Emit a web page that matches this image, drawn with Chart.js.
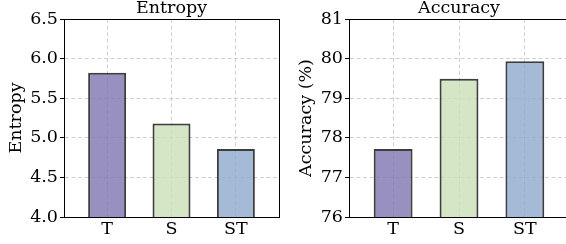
<!DOCTYPE html>
<html lang="en">
<head>
<meta charset="UTF-8">
<title>Entropy and Accuracy</title>
<script src="https://cdn.jsdelivr.net/npm/chart.js"></script>
<style>
  body { margin: 0; width: 566px; height: 244px; overflow: hidden; background: #fff; }
  canvas { position: absolute; top: 0; }
  #left { left: 0; }
  #right { left: 290px; }
</style>
</head>
<body>
<canvas id="left" width="290" height="244"></canvas>
<canvas id="right" width="290" height="244"></canvas>
<script>
const categories = ['T', 'S', 'ST'];
const entropyValues = [5.82, 5.18, 4.86];
const accuracyValues = [77.72, 79.49, 79.93];
const entropyTicks = [4.0, 4.5, 5.0, 5.5, 6.0, 6.5];
const accuracyTicks = [76, 77, 78, 79, 80, 81];

const fills = ['rgba(126,116,176,0.8)', 'rgba(201,224,184,0.8)', 'rgba(143,169,204,0.8)'];
const serif = 'DejaVu Serif';
const gridColor = '#d0d0d0';

// box around the axes, like matplotlib
const frame = {
  id: 'frame',
  afterDatasetsDraw(chart) {
    const a = chart.chartArea, ctx = chart.ctx;
    ctx.save();
    ctx.strokeStyle = '#000';
    ctx.lineWidth = 1;
    ctx.strokeRect(Math.round(a.left) + 0.5, Math.round(a.top) + 0.5,
      Math.round(a.right - a.left), Math.round(a.bottom - a.top));
    ctx.restore();
  }
};

function makeChart(id, title, yLabel, values, yTicks, decimals, yWidth) {
  const font = { family: serif, size: 17.5 };
  return new Chart(document.getElementById(id), {
    type: 'bar',
    data: {
      datasets: [{
        data: values.map((v, i) => ({ x: i, y: v })),
        backgroundColor: fills,
        borderColor: 'rgba(40,40,40,0.9)',
        borderWidth: 2,
        categoryPercentage: 0.59,
        barPercentage: 1
      }]
    },
    options: {
      responsive: false,
      animation: false,
      devicePixelRatio: 1,
      layout: { padding: { left: 0, right: 11, top: 0, bottom: 0 } },
      plugins: {
        legend: { display: false },
        tooltip: { enabled: false },
        title: {
          display: true, text: title, fullSize: false, color: '#000',
          font: { family: serif, size: 17.5, weight: 'normal' },
          padding: { top: -2, bottom: 0 }
        }
      },
      scales: {
        x: {
          type: 'linear', min: -0.67, max: 2.67, offset: false,
          afterBuildTicks: s => { s.ticks = categories.map((_, i) => ({ value: i })); },
          afterFit: s => { s.height = 27; },
          ticks: { callback: v => categories[v], color: '#000', font, padding: 2, maxRotation: 0, autoSkip: false },
          grid: { color: gridColor, drawTicks: false, offset: false },
          border: { color: '#000', dash: [4, 2.5] }
        },
        y: {
          min: yTicks[0], max: yTicks[yTicks.length - 1],
          afterBuildTicks: s => { s.ticks = yTicks.map(v => ({ value: v })); },
          afterFit: s => { s.width = yWidth; },
          ticks: { callback: v => v.toFixed(decimals), color: '#000', font, padding: 2 },
          grid: { color: gridColor, tickColor: '#000', tickLength: 4, tickBorderDash: [] },
          border: { color: '#000', dash: [4, 2.5] },
          title: { display: true, text: yLabel, color: '#000', font, padding: { top: 6, bottom: 0 } }
        }
      }
    },
    plugins: [frame]
  });
}

makeChart('left', 'Entropy', 'Entropy', entropyValues, entropyTicks, 1, 64);
makeChart('right', 'Accuracy', 'Accuracy (%)', accuracyValues, accuracyTicks, 0, 59);
</script>
</body>
</html>
